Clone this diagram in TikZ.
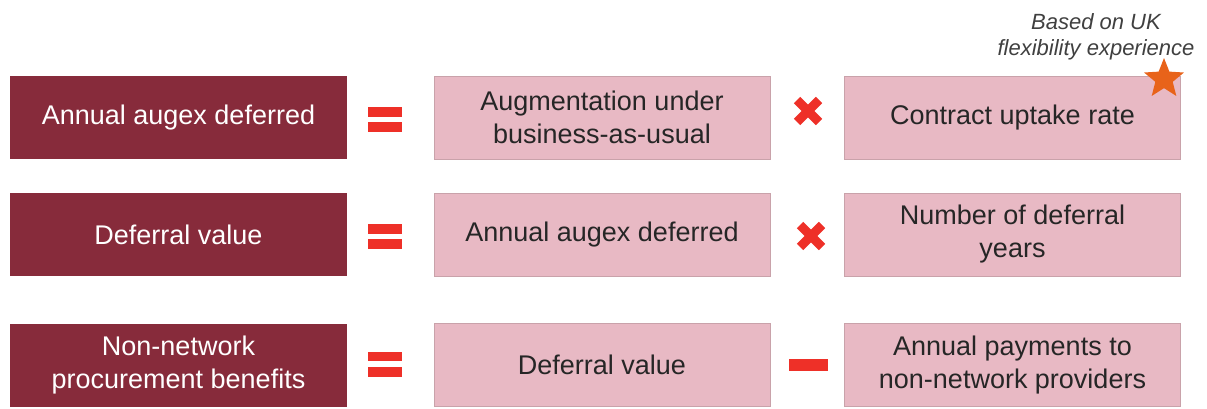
\documentclass[tikz,border=0pt]{standalone}
\usepackage{fontspec}
\setmainfont{Liberation Sans}
\usetikzlibrary{shapes.geometric}
\definecolor{wine}{HTML}{872B3B}
\definecolor{blush}{HTML}{E8B9C4}
\definecolor{blushline}{HTML}{C9A2AA}
\definecolor{opred}{HTML}{EE3028}
\definecolor{starorange}{HTML}{E8631A}
\definecolor{notegray}{HTML}{404040}
\tikzset{
  lhs/.style={fill=wine, draw=none, text=white, minimum width=337pt, minimum height=83pt,
    inner sep=0pt, align=center, font=\fontsize{27}{33}\selectfont},
  term/.style={fill=blush, draw=blushline, line width=1pt, text=black!85, minimum width=336pt,
    minimum height=83pt, inner sep=0pt, align=center, font=\fontsize{27}{33}\selectfont},
  opbar/.style={fill=opred, draw=none},
  opcross/.style={draw=opred, line width=9pt},
}
\begin{document}
\begin{tikzpicture}[x=1pt, y=-1pt]
\useasboundingbox (0,0) rectangle (1207,408);

% row 1
\node[lhs]  (l1) at (178.5,117.5) {Annual augex deferred};
\node[term] (a1) at (602,117.5) {Augmentation under\\business-as-usual};
\node[term] (b1) at (1012.5,117.5) {Contract uptake rate};
% row 2
\node[lhs]  (l2) at (178.5,234.5) {Deferral value};
\node[term] (a2) at (602,234.5) {Annual augex deferred};
\node[term] (b2) at (1012.5,234.5) {Number of deferral\\years};
% row 3
\node[lhs]  (l3) at (178.5,365) {Non-network\\procurement benefits};
\node[term] (a3) at (602,365) {Deferral value};
\node[term] (b3) at (1012.5,365) {Annual payments to\\non-network providers};

% equals signs
\foreach \r/\cy in {1/119.5, 2/236.5, 3/364}{
  \coordinate (eq\r) at (385,\cy);
  \fill[opbar] ([shift={(-17,-12.5)}]eq\r) rectangle ([shift={(17,-3)}]eq\r);
  \fill[opbar] ([shift={(-17,2.5)}]eq\r) rectangle ([shift={(17,12.5)}]eq\r);
}

% multiplication signs
\foreach \r/\cx/\cy in {1/808/111, 2/811/236}{
  \coordinate (mul\r) at (\cx,\cy);
  \draw[opcross] ([shift={(-11,-11)}]mul\r) -- ([shift={(11,11)}]mul\r);
  \draw[opcross] ([shift={(-11,11)}]mul\r) -- ([shift={(11,-11)}]mul\r);
}

% minus sign
\coordinate (minus) at (808.5,365);
\fill[opbar] ([shift={(-19.5,-6)}]minus) rectangle ([shift={(19.5,6)}]minus);

% note and star
\node[font=\fontsize{22}{26}\selectfont\itshape, text=notegray, align=center]
  (note) at (1096,37) {Based on UK\\flexibility experience};
\node[star, star points=5, star point ratio=2.3, fill=starorange, draw=none,
  minimum size=42pt, inner sep=0pt] (star) at (1164,79) {};
\end{tikzpicture}
\end{document}
